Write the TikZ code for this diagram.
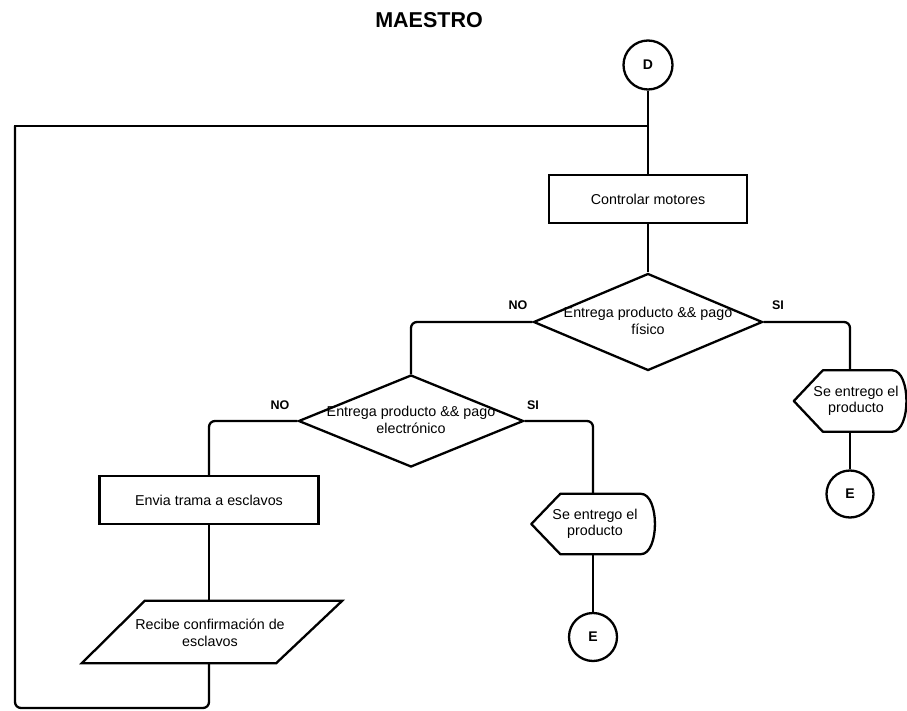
\documentclass[tikz,border=0pt]{standalone}
\usepackage{fontspec}
\setmainfont{Liberation Sans}
\usetikzlibrary{shapes.geometric}
\begin{document}
\begin{tikzpicture}[x=1pt,y=-1pt,
  line/.style={line width=2.3pt},
  conn/.style={line width=2.3pt, rounded corners=6pt},
  txt/.style={font=\fontsize{14.3}{16.5}\selectfont, align=center, inner sep=0pt},
  lbl/.style={font=\fontsize{12.5}{14}\selectfont\bfseries, inner sep=0pt},
  connector/.style={circle, draw, line width=2.3pt, minimum size=49pt, inner sep=0pt,
    font=\fontsize{14}{16}\selectfont\bfseries},
  procbox/.style={draw, line width=2.3pt, font=\fontsize{14.3}{16.5}\selectfont,
    minimum height=48pt},
  decision/.style={diamond, draw, line width=2.3pt, inner sep=0pt},
  slot/.style={inner sep=0pt},
  displayshape/.style={line width=2.3pt, line join=round}
]
\useasboundingbox (0,0) rectangle (907,711);

% title
\node[font=\fontsize{21.5}{24}\selectfont\bfseries] (title) at (429,20) {MAESTRO};

% entry connector and first process
\node[connector] (d) at (648,65) {D};
\node[procbox, minimum width=198pt] (ctrl) at (648,199) {Controlar motores};

% first decision
\node[decision, minimum width=229pt, minimum height=97pt] (q1) at (648,322) {};
\node[txt] (q1t) at (648,321) {Entrega producto \&\& pago\\físico};
\node[lbl] (q1no) at (518,305) {NO};
\node[lbl] (q1si) at (778,305) {SI};

% second decision
\node[decision, minimum width=225pt, minimum height=92pt] (q2) at (411,421) {};
\node[txt] (q2t) at (411,420) {Entrega producto \&\& pago\\electrónico};
\node[lbl] (q2no) at (280,405) {NO};
\node[lbl] (q2si) at (533,405) {SI};

% display outputs
\node[slot, minimum width=112pt, minimum height=61pt] (s1) at (850,401) {};
\node[txt] (s1t) at (856,401) {Se entrego el\\producto};
\node[slot, minimum width=123pt, minimum height=60pt] (s2) at (593,524) {};
\node[txt] (s2t) at (595,524) {Se entrego el\\producto};
\foreach \s in {s1,s2}{
  \draw[displayshape] (\s.west) -- ([xshift=29pt]\s.north west)
    -- ([xshift=-14pt]\s.north east)
    .. controls ([xshift=5pt]\s.north east) and ([xshift=5pt]\s.south east)
    .. ([xshift=-14pt]\s.south east)
    -- ([xshift=29pt]\s.south west) -- cycle;
}

% exit connectors
\node[connector, minimum size=47pt] (e1) at (850,494) {E};
\node[connector, minimum size=48pt] (e2) at (593,637) {E};

% left branch: send frame, receive confirmation
\node[procbox, minimum width=219pt] (envia) at (209,500) {Envia trama a esclavos};
\node[slot, minimum width=260pt, minimum height=62pt] (recv) at (212,632) {};
\draw[line] ([xshift=63pt]recv.north west) -- (recv.north east)
  -- ([xshift=-66pt]recv.south east) -- (recv.south west) -- cycle;
\node[txt] (recvt) at (210,633) {Recibe confirmación de\\esclavos};

% connectors
\coordinate (jn) at (648,126);
\coordinate (loopbl) at (15,708);
\coordinate (looptl) at (15,126);

\draw[line] (d.south) -- (ctrl.north);
\draw[line] (ctrl.south) -- (q1.north);
\draw[conn] (q1.west) -| (q2.north);
\draw[conn] (q1.east) -| (s1.north);
\draw[line] (s1.south) -- (e1.north);
\draw[conn] (q2.east) -| (s2.north);
\draw[line] (s2.south) -- (e2.north);
\draw[conn] (q2.west) -| (envia.north);
\draw[line] (envia.south) -- (envia.south |- recv.north);
% loop back to the top: rounded at the bottom, square at the top left
\draw[conn] (envia.south |- recv.south) |- (loopbl) -- (looptl);
\draw[line, line cap=rect] (looptl) -- (jn);
\end{tikzpicture}
\end{document}
